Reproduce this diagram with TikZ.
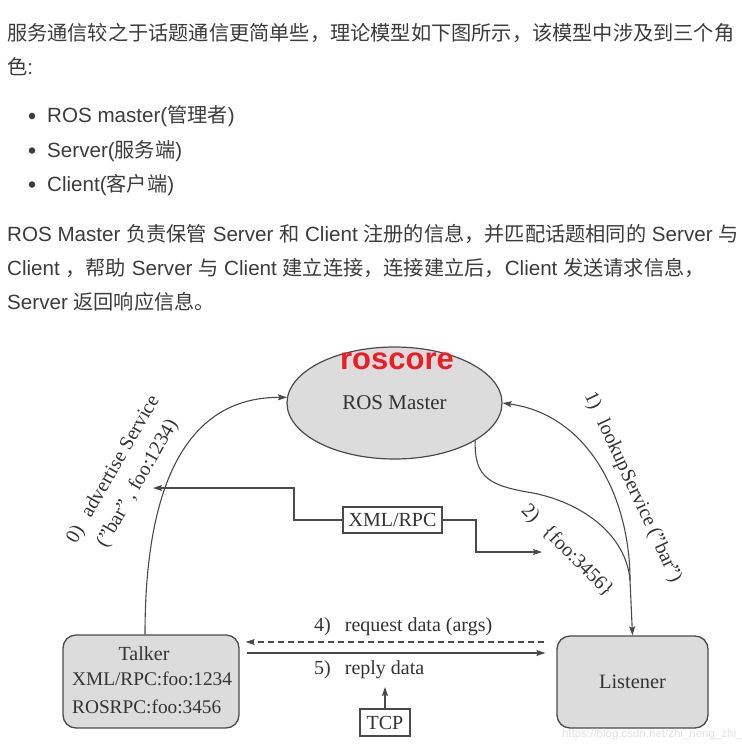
\documentclass[tikz,border=0pt]{standalone}
\usepackage{fontspec}
\setmainfont{Liberation Serif}
\newfontfamily\sansf{Liberation Sans}
\newfontfamily\cjk{Noto Sans CJK SC}
\usetikzlibrary{arrows.meta,calc,shapes.geometric}
\definecolor{txt}{HTML}{3C3C3C}
\definecolor{dtxt}{HTML}{333333}
\definecolor{ln}{HTML}{4A4A4A}
\definecolor{shade}{HTML}{DCDCDC}
\definecolor{redmark}{HTML}{EE1C25}
\definecolor{wmark}{HTML}{E2E2E2}
\newcommand\zh[1]{{\cjk\fontsize{20.2}{24}\selectfont #1}}
\newcommand\dq{\symbol{34}}
\begin{document}
\begin{tikzpicture}[x=1pt,y=-1pt,
  para/.style={anchor=base west, inner sep=0pt, text=txt, font=\sansf\fontsize{20.6}{25}\selectfont},
  bul/.style={circle, fill=txt, inner sep=0pt, minimum size=6.5pt},
  dtext/.style={inner sep=0pt, text=dtxt, font=\fontsize{20}{28}\selectfont},
  gbox/.style={draw=ln, fill=shade, line width=1.3pt, rounded corners=13pt, inner sep=0pt},
  wbox/.style={draw=ln, fill=white, line width=1.1pt, inner sep=0pt, text=dtxt, font=\fontsize{20}{24}\selectfont},
  arr/.style={draw=ln, line width=1.1pt, -{Stealth[length=9pt,width=6pt,inset=1.5pt]}},
  plain/.style={draw=ln, line width=1.1pt}
]
\useasboundingbox[fill=white] (0,0) rectangle (742,756);

% ---------- text above the diagram ----------
\node[para] (t1) at (7,40) {\zh{服务通信较之于话题通信更简单些，理论模型如下图所示，该模型中涉及到三个角}};
\node[para] (t2) at (7,74) {\zh{色}:};
\node[bul] (b1) at (32,116) {};
\node[bul] (b2) at (32,150.5) {};
\node[bul] (b3) at (32,184.5) {};
\node[para] (li1) at (47,122) {ROS master(\zh{管理者})};
\node[para] (li2) at (47,157) {Server(\zh{服务端})};
\node[para] (li3) at (47,191) {Client(\zh{客户端})};
\node[para] (p1) at (7,241) {ROS Master \zh{负责保管} Server \zh{和} Client \zh{注册的信息，并匹配话题相同的} Server \zh{与}};
\node[para] (p2) at (7,275) {Client \zh{，帮助} Server \zh{与} Client \zh{建立连接，连接建立后，}Client \zh{发送请求信息，}};
\node[para] (p3) at (7,309) {Server \zh{返回响应信息。}};

% ---------- diagram nodes ----------
\node[ellipse, draw=ln, fill=shade, line width=1.2pt, minimum width=215pt, minimum height=112pt,
      inner sep=0pt, text=dtxt, font=\fontsize{21}{24}\selectfont] (master) at (394.5,403) {ROS Master};
\node[anchor=base, inner sep=0pt, text=redmark, font=\sansf\bfseries\fontsize{31}{34}\selectfont] (roscore) at (397,369) {roscore};

\node[gbox, minimum width=176pt, minimum height=93pt] (talker) at (151,681.5) {};
\node[dtext, anchor=base] (tname) at (144,660) {Talker};
\node[dtext, anchor=base west, font=\fontsize{19.3}{22}\selectfont] (txml) at (72,685) {XML/RPC:foo:1234};
\node[dtext, anchor=base west, font=\fontsize{19.3}{22}\selectfont] (tros) at (72,713) {ROSRPC:foo:3456};

\node[gbox, minimum width=151pt, minimum height=92pt, text=dtxt, font=\fontsize{20.4}{24}\selectfont] (listener) at (632.5,682) {Listener};

\node[wbox, minimum width=99pt, minimum height=26pt] (xml) at (392.5,520) {XML/RPC};
\node[wbox, minimum width=50pt, minimum height=27pt] (tcp) at (385,722.5) {TCP};

% ---------- free ends ----------
\coordinate (advtip) at (153,488);
\coordinate (footip) at (542,552);
\coordinate (tcptip) at (385,687);
\coordinate (M) at (630,580);

% ---------- connectors ----------
\draw[arr] ($(talker.north)+(-6,0)$) .. controls (145,468) and (196,397) .. (master.177);
\draw[plain] (master.-25.5) .. controls (474,478) and (490,486) .. (533,493)
             .. controls (583,503) and (626,535) .. (M);
\draw[arr] (M) .. controls (630,500) and (590,415) .. (master.0);
\draw[arr] (M) -- (listener.north);

\draw[arr] (xml.west) -- (294,520) -- (294,488) -- (advtip);
\draw[arr] (xml.east) -- (476,520) -- (476,552) -- (footip);

\draw[arr, dash pattern=on 6pt off 4pt] ($(listener.west)+(-12,-40)$) -- ($(talker.east)+(6,-39.5)$);
\draw[arr] ($(talker.east)+(7,-28.5)$) -- ($(listener.west)+(-11,-29)$);
\draw[arr] (tcp.north) -- (tcptip);

% ---------- labels ----------
\node[dtext, anchor=base west] (l4) at (314,631) {4)\hspace{0.7em}request data (args)};
\node[dtext, anchor=base west] (l5) at (314,674) {5)\hspace{0.7em}reply data};
\node[dtext, rotate=60, align=center] (advlbl) at (125.75,476.5) {0)\hspace{0.65em}advertise Service\\(\dq bar\dq\ , foo:1234)};
\node[dtext, rotate=-65] (lookup) at (632.5,487.5) {1)\hspace{0.65em}lookupService (\dq bar\dq)};
\node[dtext, rotate=-45] (ret) at (567,551) {2)\hspace{0.65em}\{foo:3456\}};

\node[anchor=base west, inner sep=0pt, text=wmark, font=\sansf\fontsize{11.5}{13}\selectfont] (wm) at (562,737) {https://blog.csdn.net/zhi\_neng\_zhi\_};
\end{tikzpicture}
\end{document}
